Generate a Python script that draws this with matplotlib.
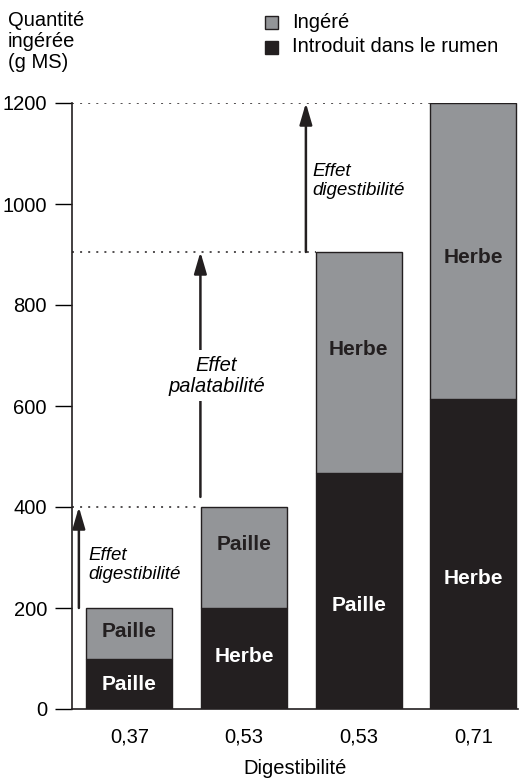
import numpy as np
import matplotlib.pyplot as plt

plt.rcParams['font.family'] = ['Liberation Sans', 'DejaVu Sans']

# data
digest = ['0,37', '0,53', '0,53', '0,71']
rumen = [100, 200, 468, 613]          # introduit dans le rumen
ingere = [200, 400, 905, 1200]        # total ingere
lab_top = ['Paille', 'Paille', 'Herbe', 'Herbe']
lab_bot = ['Paille', 'Herbe', 'Paille', 'Herbe']

# where the label sits inside its segment (0 = bottom, 1 = top)
frac_top = [0.54, 0.63, 0.56, 0.48]
frac_bot = [0.49, 0.52, 0.44, 0.42]

gray = '#939598'
black = '#231f20'

fig = plt.figure(figsize=(5.2, 7.82), dpi=100)
ax = fig.add_axes([72/520, 73/782, 446/520, 606/782])

x = np.arange(len(digest))
w = 0.75
top_part = [t - r for t, r in zip(ingere, rumen)]
ax.bar(x, rumen, w, color=black, edgecolor=black, lw=1)
ax.bar(x, top_part, w, bottom=rumen, color=gray, edgecolor=black, lw=1)

for i in x:
    ax.text(i, rumen[i] + frac_top[i] * top_part[i], lab_top[i], ha='center', va='center',
            fontsize=15, fontweight='bold', color=black)
    ax.text(i, frac_bot[i] * rumen[i], lab_bot[i], ha='center', va='center',
            fontsize=15, fontweight='bold', color='white')

# dotted guide lines
for i in range(1, 4):
    ax.plot([-0.5, i - w/2], [ingere[i], ingere[i]], ls=(0, (1.3, 4)), color=black, lw=1.1)

# arrows
arr = dict(arrowstyle='-|>,head_length=1.3,head_width=0.38', color=black, lw=1.8, shrinkA=0, shrinkB=0)
ax.annotate('', xy=(-0.44, ingere[1]), xytext=(-0.44, ingere[0]), arrowprops=arr)
ax.annotate('', xy=(0.62, ingere[2]), xytext=(0.62, ingere[1] + 20), arrowprops=arr)
ax.annotate('', xy=(1.54, ingere[3]), xytext=(1.54, ingere[2]), arrowprops=arr)

ax.text(-0.36, 285, 'Effet\ndigestibilité', style='italic', fontsize=13.5, va='center', ha='left', linespacing=1.15)
ax.text(0.76, 660, 'Effet\npalatabilité', style='italic', fontsize=14.5, va='center', ha='center', linespacing=1.15,
        bbox=dict(facecolor='white', edgecolor='none', pad=4), zorder=5)
ax.text(1.6, 1045, 'Effet\ndigestibilité', style='italic', fontsize=13.5, va='center', ha='left', linespacing=1.15)

ax.set_xlim(-0.5, 3.39)
ax.set_ylim(0, 1200)
ax.set_yticks([0, 200, 400, 600, 800, 1000, 1200])
ax.set_xticks(x)
ax.set_xticklabels(digest)
ax.tick_params(axis='y', length=12, width=1, labelsize=14.5, pad=6)
ax.tick_params(axis='x', length=0, labelsize=14.5, pad=13)
ax.spines['top'].set_visible(False)
ax.spines['right'].set_visible(False)
for s in ['left', 'bottom']:
    ax.spines[s].set_color(black)
    ax.spines[s].set_linewidth(1.2)
ax.set_xlabel('Digestibilité', fontsize=14.5, labelpad=9)

fig.text(8/520, 1 - 11/782, 'Quantité\ningérée\n(g MS)', fontsize=14.5, va='top', ha='left', linespacing=1.15)

# legend
fig.patches.append(plt.Rectangle((265/520, 1 - 29/782), 13/520, 13/782, transform=fig.transFigure,
                                 facecolor=gray, edgecolor=black, lw=1))
fig.patches.append(plt.Rectangle((265/520, 1 - 54/782), 13/520, 13/782, transform=fig.transFigure,
                                 facecolor=black, edgecolor=black, lw=1))
fig.text(292/520, 1 - 22/782, 'Ingéré', fontsize=14.5, va='center')
fig.text(292/520, 1 - 47/782, 'Introduit dans le rumen', fontsize=14.5, va='center')

fig.savefig('out.png', dpi=100)
